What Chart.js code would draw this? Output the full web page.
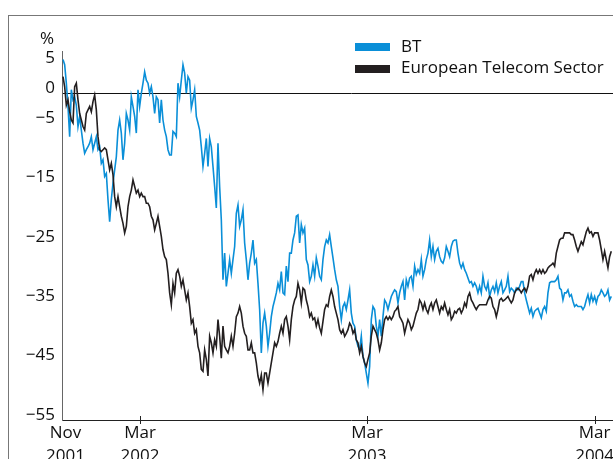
<!doctype html>
<html lang="en">
<head>
<meta charset="UTF-8"/>
<title>BT vs European Telecom Sector</title>
<script src="https://cdn.jsdelivr.net/npm/chart.js@4.4.1/dist/chart.umd.min.js"></script>
<style>
 * { margin: 0; padding: 0; }
 html, body { width: 613px; height: 459px; overflow: hidden; background: #fff; }
 body { position: relative; font-family: "Open Sans", sans-serif; color: #111; }
 #frame { position: absolute; left: 8px; top: 15px; width: 800px; height: 600px;
          border-left: 1px solid #777; border-top: 1px solid #777; }
 #wrap { position: absolute; left: 0; top: 0; width: 660px; height: 480px; }
 .lab { position: absolute; font-size: 17px; line-height: 17px; white-space: nowrap; }
 .sw { position: absolute; left: 355px; width: 35px; }
</style>
</head>
<body>
<div id="frame"></div>
<div id="wrap"><canvas id="chart" width="660" height="480"></canvas></div>
<div class="lab" style="left:40px; top:29px">%</div>
<div class="sw" style="top:43px; height:8px; background:#0a8fd8"></div>
<div class="lab" style="left:401px; top:37px">BT</div>
<div class="sw" style="top:65px; height:8px; background:#231f20"></div>
<div class="lab" style="left:401px; top:58px">European Telecom Sector</div>
<script>
 // days since 1 Nov 2001, one reading about every 2.7 days
 const firstDay = -3.9;
 const dayStep = 2.68;

 const tickDays = [0, 120, 485, 851];
 const tickLabels = [['Nov', '2001'], ['Mar', '2002'], ['Mar', '2003'], ['Mar', '2004']];
 const yTicks = [5, 0, -5, -15, -25, -35, -45, -55];

 const bt = [
  5.7, 4.8, 1.7, -2.2, -7.3, 0.6, -1.1, -0.6, -2.0, -5.6,
  -3.9, -6.2, -8.4, -10.1, -9.5, -9.0, -8.4, -7.3, -9.5, -8.4,
  -7.3, -9.5, -9.0, -11.8, -11.2, -14.0, -13.5, -17.9, -21.6, -17.9,
  -15.1, -12.9, -10.7, -6.2, -4.5, -6.7, -11.2, -8.4, -3.4, -4.5,
  -6.2, -0.6, -2.2, -3.9, -6.7, 0.6, -2.2, 0, 1.7, 3.6,
  2.2, 1.7, 0, 1.1, -0.6, -3.4, -0.6, -1.1, -5.0,
  -1.1, -4.5, -6.2, -7.3, -9.5, -10.4, -10.4, -6.4, -6.7, -7.3,
  1.7, -0.6, 2.2, 4.8, 3.4, 0, 2.8, 2.2, -2.5, -1.1,
  0.6, -3.9, -5.0, -6.2, -9.0, -12.3, -10.1, -7.6, -12.3, -7.6,
  -9.0, -12.3, -15.7, -19.3, -8.4, -15.7, -21.3, -31.4, -26.9, -32.5,
  -30.3, -28.0, -30.3, -28.0, -25.8, -20.2, -18.8, -22.4, -21.3, -19.6,
  -25.2, -28.0, -31.4, -28.6, -26.9, -24.7, -28.6, -28.0, -32.0, -36.4,
  -43.7, -38.7, -37.0,
  -39.2, -42.6, -40.4, -37.6, -35.9, -34.8, -33.6, -32.0, -33.1, -30.0,
  -33.6, -33.9, -29.1, -31.7, -26.9, -26.9, -24.7, -23.5, -20.7, -20.5,
  -25.2, -22.1, -23.5, -22.7, -28.0, -28.9, -31.7, -30.8, -28.9, -30.8,
  -27.7, -29.1, -30.8, -31.4, -28.0, -25.8, -24.7, -25.2, -23.8, -25.8,
  -27.7, -29.7, -31.4, -32.5, -35.9, -38.1, -35.9, -35.3, -36.4, -34.8,
  -33.1, -37.0, -38.7, -39.2, -41.5, -42.6, -43.2, -40.9, -44.3, -45.4,
  -47.1, -48.8, -46.0,
  -38.1, -35.9, -36.4, -39.2, -40.9, -38.1, -40.9, -37.6, -34.8, -35.3,
  -36.4, -35.3, -34.2, -33.6, -33.1, -33.4, -35.3, -33.6, -32.5, -31.7,
  -34.8, -31.4, -32.5, -31.1, -30.8, -32.5, -29.1, -30.5, -29.7, -30.3,
  -28.0, -30.8, -29.7, -28.0, -26.9, -24.7, -27.5, -25.8, -28.0, -26.6,
  -26.1, -27.5, -28.3, -28.6, -27.7, -25.8, -26.6, -27.5, -25.8, -24.9,
  -24.7, -24.7, -26.9, -28.6, -29.4, -28.6, -29.7, -30.3, -31.1, -31.9,
  -31.7, -32.5, -31.9,
  -32.5, -33.6, -32.5, -33.6, -30.8, -32.5, -33.1, -31.9, -34.2, -33.1,
  -32.5, -33.4, -31.9, -33.6, -32.5, -31.7, -33.6, -33.1, -32.5, -30.8,
  -33.4, -32.8, -33.1, -33.6, -32.8, -33.1, -32.5, -31.7, -31.7, -33.6,
  -34.8, -35.9, -37.0, -36.2, -37.6, -36.7, -36.4, -36.2, -37.0, -37.8,
  -36.4, -35.9, -36.7, -33.6, -31.9, -31.7, -31.7, -31.7, -31.4, -30.8,
  -32.8, -33.1, -34.8, -33.6, -33.6, -33.1, -34.2, -33.9, -35.0, -35.9,
  -35.6, -35.9, -35.9, -35.9, -36.4, -35.9, -34.8, -33.9, -35.3, -33.9,
  -35.0, -34.2, -35.3, -34.2, -33.9, -33.1, -33.6, -34.2, -33.9, -33.1,
  -34.8, -34.2
 ];

 const sector = [
  2.8, 1.1, -2.0, -1.1, -3.1, -4.5, -5.0, 1.1, 1.7, -1.1,
  -3.4, -4.5, -5.6, -6.2, -3.4, -2.8, -2.2, -3.1, -1.4, -0.3,
  -2.8, -7.3, -9.5, -9.8, -9.5, -9.2, -9.5, -11.2, -12.9, -11.8,
  -13.7, -17.4, -19.1, -17.4, -19.1, -20.7, -21.9, -23.5, -22.4, -19.1,
  -17.4, -16.3, -14.6, -15.7, -16.8, -16.3, -17.4, -16.8, -17.4, -17.4,
  -18.5, -18.5, -19.1, -20.7, -21.3, -23.0, -21.9, -20.7, -22.4,
  -24.1, -26.3, -27.5, -28.0, -30.3, -33.6, -35.6, -32.0, -33.6, -30.3,
  -29.7, -30.8, -32.5, -31.4, -33.1, -34.8, -33.6, -35.9, -38.7, -38.1,
  -40.4, -39.8, -42.6, -43.7, -46.5, -46.8, -43.2, -44.8, -47.6, -40.9,
  -42.0, -43.7, -41.5, -42.6, -38.1, -40.9, -44.6, -39.2, -42.6, -43.2,
  -43.7, -42.6, -40.9, -42.6, -40.4, -37.6, -37.0, -35.9, -37.0, -39.2,
  -40.4, -40.9, -43.2, -43.2, -42.0, -43.7, -43.7, -45.4, -47.6, -48.8,
  -47.4, -49.9, -47.1,
  -47.1, -48.8, -47.1, -45.4, -43.7, -42.0, -42.6, -41.8, -40.4, -39.2,
  -40.4, -38.1, -37.6, -39.2, -41.5, -38.1, -35.9, -34.8, -34.2, -32.0,
  -33.1, -35.3, -32.8, -33.1, -34.8, -35.9, -37.6, -37.0, -38.1, -37.8,
  -39.2, -38.1, -39.5, -40.4, -38.4, -36.4, -35.6, -35.9, -34.2, -33.1,
  -34.2, -35.9, -37.0, -38.1, -39.8, -40.4, -39.8, -40.9, -40.4, -39.8,
  -38.7, -39.2, -40.4, -39.8, -41.5, -42.0, -43.7, -42.6, -44.3, -45.4,
  -46.0, -44.8, -43.7,
  -40.9, -39.2, -39.8, -40.4, -41.5, -43.2, -42.0, -39.8, -38.1, -37.6,
  -38.1, -37.6, -38.1, -37.6, -36.7, -36.4, -35.9, -37.6, -38.1, -38.7,
  -40.4, -39.2, -38.1, -38.7, -39.8, -39.2, -38.1, -37.0, -36.4, -34.8,
  -35.3, -36.4, -35.3, -36.4, -37.0, -35.9, -35.3, -36.4, -35.3, -34.8,
  -35.9, -37.0, -35.9, -36.4, -35.3, -36.4, -37.3, -36.4, -38.1, -37.6,
  -36.7, -37.0, -36.4, -36.2, -37.0, -36.4, -35.3, -35.9, -34.2, -33.6,
  -34.8, -35.3, -35.9,
  -36.4, -35.9, -35.6, -35.6, -35.6, -35.6, -35.6, -34.8, -34.2, -34.5,
  -35.9, -36.4, -37.6, -36.4, -34.8, -34.5, -35.0, -34.8, -34.5, -34.2,
  -34.8, -35.3, -34.8, -33.6, -33.1, -32.8, -33.1, -33.6, -33.1, -32.8,
  -33.4, -32.5, -30.8, -30.5, -31.4, -30.3, -29.7, -30.3, -29.7, -30.3,
  -29.7, -30.3, -30.0, -29.4, -29.1, -28.9, -28.6, -29.1, -26.9, -25.8,
  -24.7, -24.4, -24.4, -23.5, -23.5, -23.5, -23.5, -23.8, -23.8, -24.7,
  -25.8, -26.6, -25.8, -25.0, -25.5, -24.4, -23.3, -22.7, -23.5, -23.3,
  -24.1, -23.5, -23.5, -23.5, -24.7, -26.3, -28.0, -26.6, -28.0, -29.4,
  -27.5, -26.6
 ];

 function points(values) {
     return values.map((v, i) => ({ x: firstDay + i * dayStep, y: v }));
 }

 // short date ticks crossing the x axis
 const tickMarks = {
     id: 'tickMarks',
     afterDraw(chart) {
         const ctx = chart.ctx;
         const xs = chart.scales.x;
         const bottom = chart.chartArea.bottom;
         ctx.save();
         ctx.strokeStyle = '#222';
         ctx.lineWidth = 1;
         tickDays.slice(1).forEach(d => {
             const px = Math.round(xs.getPixelForValue(d)) + 0.5;
             ctx.beginPath();
             ctx.moveTo(px, bottom - 4);
             ctx.lineTo(px, bottom + 4);
             ctx.stroke();
         });
         ctx.restore();
     }
 };

 Chart.defaults.font.family = '"Open Sans", sans-serif';
 Chart.defaults.font.size = 17;
 Chart.defaults.color = '#111';

 new Chart(document.getElementById('chart'), {
     type: 'line',
     data: {
         datasets: [{
             label: 'BT',
             data: points(bt),
             borderColor: '#0a8fd8',
             borderWidth: 1.6,
             pointRadius: 0,
             tension: 0,
             order: 2
         }, {
             label: 'European Telecom Sector',
             data: points(sector),
             borderColor: '#231f20',
             borderWidth: 1.6,
             pointRadius: 0,
             tension: 0,
             order: 1
         }]
     },
     options: {
         responsive: false,
         animation: false,
         layout: { padding: { top: 51.7, right: 20, left: 0, bottom: 0 } },
         plugins: { legend: { display: false }, tooltip: { enabled: false } },
         scales: {
             x: {
                 type: 'linear',
                 min: -5.5,
                 max: 924,
                 afterBuildTicks: s => { s.ticks = tickDays.map(v => ({ value: v })); },
                 afterFit: s => { s.height = 60; },
                 ticks: {
                     autoSkip: false,
                     maxRotation: 0,
                     padding: 2,
                     font: { lineHeight: 1.35 },
                     callback: v => tickLabels[tickDays.indexOf(v)]
                 },
                 grid: { display: false, drawTicks: false },
                 border: { color: '#222', width: 1 }
             },
             y: {
                 min: -55,
                 max: 7,
                 afterBuildTicks: s => { s.ticks = yTicks.map(v => ({ value: v })); },
                 afterFit: s => { s.width = 62; },
                 ticks: {
                     padding: 7,
                     labelOffset: -5,
                     callback: v => String(v).replace('-', '\u2212')
                 },
                 grid: {
                     drawTicks: false,
                     color: c => (c.tick && c.tick.value === 0) ? '#111' : 'rgba(0,0,0,0)',
                     lineWidth: 1
                 },
                 border: { color: '#666', width: 1 }
             }
         }
     },
     plugins: [tickMarks]
 });
</script>
</body>
</html>
